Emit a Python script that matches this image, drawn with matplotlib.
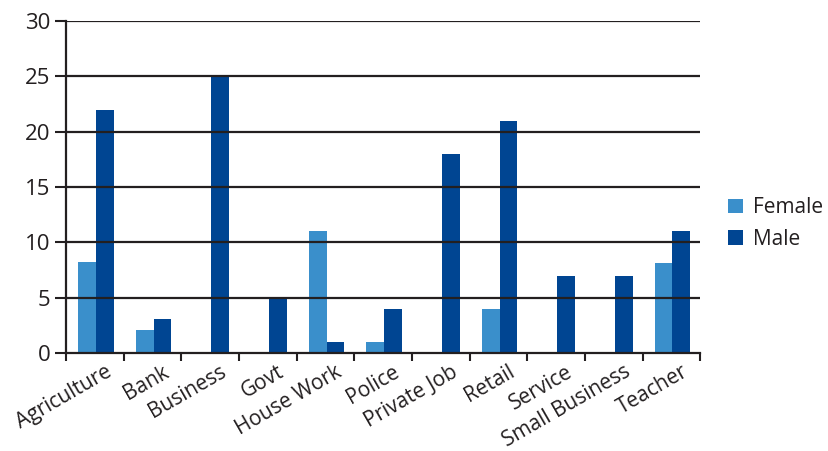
import matplotlib
matplotlib.use("Agg")
import matplotlib.pyplot as plt
import numpy as np

categories = ["Agriculture", "Bank", "Business", "Govt", "House Work", "Police",
              "Private Job", "Retail", "Service", "Small Business", "Teacher"]
female = [8.2, 2.1, 0, 0, 11, 1, 0, 4, 0, 0, 8.1]
male = [22, 3.1, 25, 5, 1, 4, 18, 21, 7, 7, 11]
yticks = [0, 5, 10, 15, 20, 25, 30]

FEMALE_C = "#3a8fcb"
MALE_C = "#004592"
INK = "#231f20"

plt.rcParams["font.family"] = ["Open Sans", "DejaVu Sans"]

fig = plt.figure(figsize=(8.29, 4.51), dpi=100)
ax = fig.add_axes([0.0796, 0.2173, 0.765, 0.7361])

x = np.arange(len(categories))
w = 0.31
ax.bar(x - w / 2 + 0.02, female, w, color=FEMALE_C, label="Female", zorder=2)
ax.bar(x + w / 2 + 0.02, male, w, color=MALE_C, label="Male", zorder=2)

ax.set_xlim(-0.5, len(categories) - 0.5)
ax.set_ylim(0, 30)
ax.set_yticks(yticks)
ax.set_yticklabels([str(t) for t in yticks], fontsize=16, color=INK)
for t in yticks[1:]:
    ax.axhline(t, color=INK, lw=1.6, zorder=3)

# category boundaries carry the x tick marks
ax.set_xticks(np.arange(-0.5, len(categories), 1.0))
ax.set_xticklabels([])
ax.tick_params(axis="x", direction="out", length=6, width=1.5, color=INK)
ax.tick_params(axis="y", direction="out", length=8, width=1.5, color=INK, pad=3)

for xi, name in zip(x, categories):
    ax.annotate(name, xy=(xi + 0.17, 0), xycoords="data", xytext=(0, -6),
                textcoords="offset points", rotation=30, ha="right", va="top",
                rotation_mode="anchor", fontsize=15, color=INK)

for s in ["top", "right"]:
    ax.spines[s].set_visible(False)
for s in ["left", "bottom"]:
    ax.spines[s].set_color(INK)
    ax.spines[s].set_linewidth(1.6)
    ax.spines[s].set_zorder(4)

leg = ax.legend(loc="center left", bbox_to_anchor=(1.015, 0.39), frameon=False,
                fontsize=15, handlelength=0.7, handleheight=0.7,
                handletextpad=0.5, labelspacing=0.5)
for t in leg.get_texts():
    t.set_color(INK)

fig.savefig("out.png", dpi=100)
